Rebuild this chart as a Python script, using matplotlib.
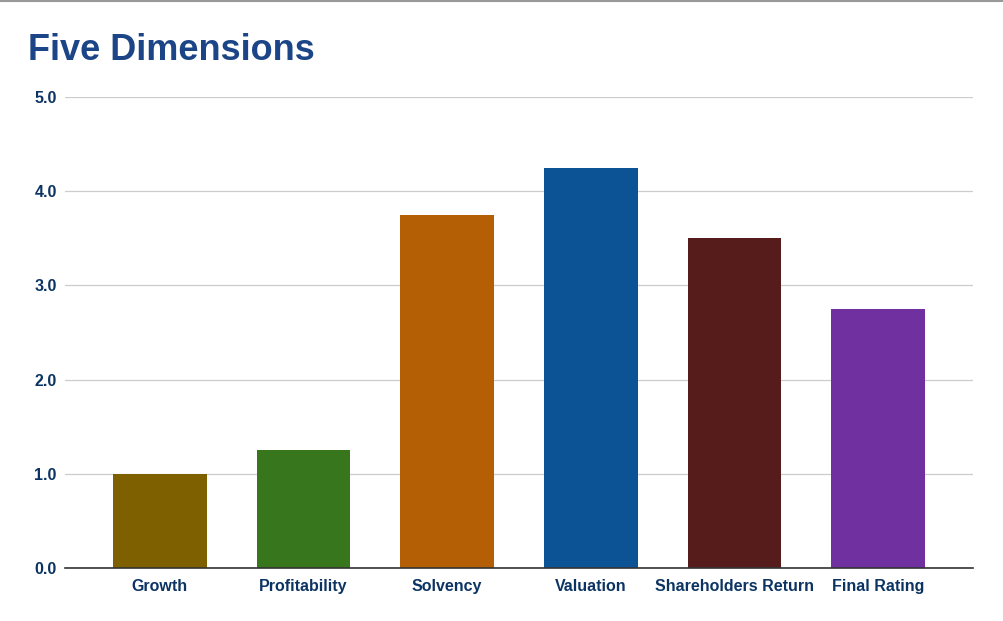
import matplotlib.pyplot as plt
from matplotlib.lines import Line2D

categories = ['Growth', 'Profitability', 'Solvency', 'Valuation', 'Shareholders Return', 'Final Rating']
scores = [1.0, 1.25, 3.75, 4.25, 3.5, 2.75]
colors = ['#7f6000', '#38761d', '#b45f06', '#0b5394', '#561c1c', '#7030a0']
y_ticks = [0, 1, 2, 3, 4, 5]

plt.rcParams['font.family'] = ['Liberation Sans', 'DejaVu Sans']

fig = plt.figure(figsize=(10.04, 6.21), dpi=100)
ax = fig.add_axes([65 / 1004, 1 - 568 / 621, (973 - 65) / 1004, (568 - 97) / 621])

x = range(len(categories))
ax.bar(x, scores, width=0.65, color=colors, zorder=3)

ax.set_xlim(-0.66, len(categories) - 1 + 0.66)
ax.set_ylim(0, 5)
ax.set_yticks(y_ticks)
ax.set_yticklabels([f'{t:.1f}' for t in y_ticks])
ax.set_xticks(list(x))
ax.set_xticklabels(categories)

label_color = '#0c3463'
for lab in ax.get_xticklabels() + ax.get_yticklabels():
    lab.set_fontweight('bold')
    lab.set_fontsize(11.5)
    lab.set_color(label_color)

ax.tick_params(axis='both', length=0)
ax.tick_params(axis='y', pad=6)
ax.tick_params(axis='x', pad=8)
ax.grid(axis='y', color='#cccccc', linewidth=0.9, zorder=0)
for side in ['top', 'right', 'left']:
    ax.spines[side].set_visible(False)
ax.spines['bottom'].set_color('#333333')
ax.spines['bottom'].set_linewidth(1.2)
ax.spines['bottom'].set_zorder(4)

fig.text(28 / 1004, 1 - 50 / 621, 'Five Dimensions', fontsize=26, fontweight='bold',
         color='#1c4587', va='center', ha='left')

# thin gray border across the top
fig.add_artist(Line2D([0, 1], [0.999, 0.999], color='#999999', linewidth=1.5,
                      transform=fig.transFigure))

fig.savefig('out.png', dpi=100)
